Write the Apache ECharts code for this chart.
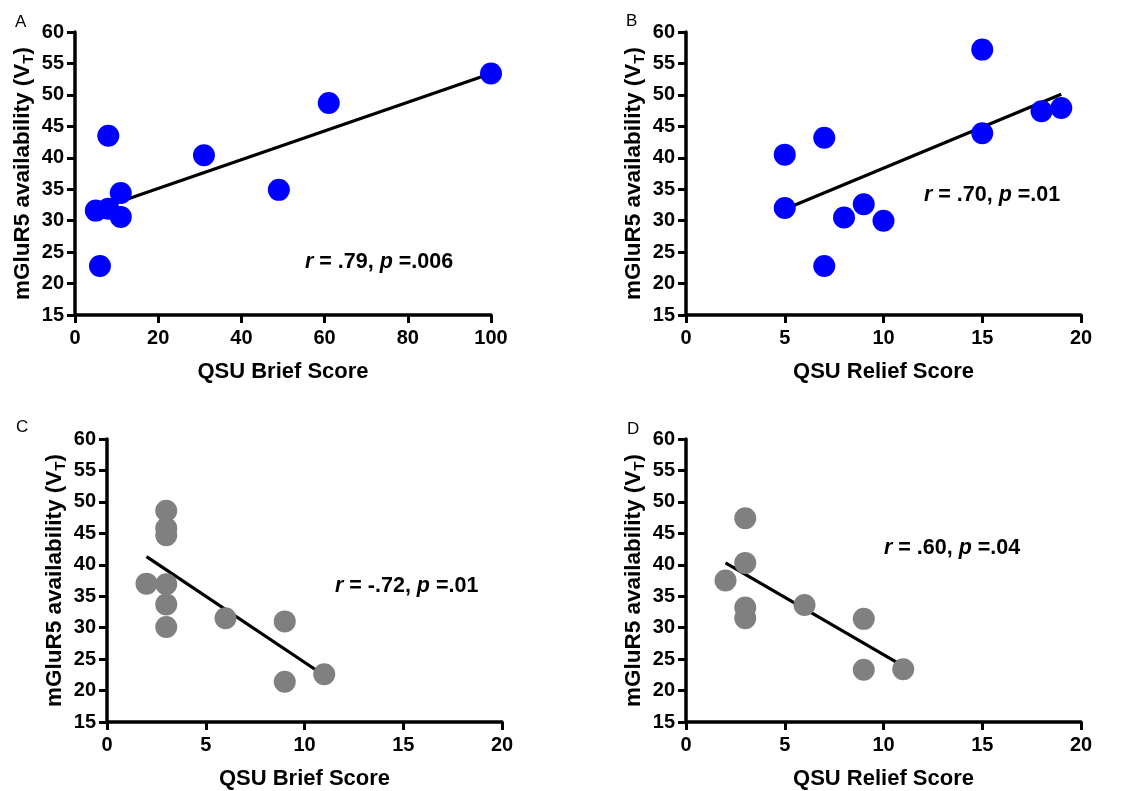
<!DOCTYPE html>
<html>
<head>
<meta charset="utf-8">
<script src="https://cdn.jsdelivr.net/npm/echarts@6/dist/echarts.min.js"></script>
<style>
html,body{margin:0;padding:0;background:#fff;}
#chart{width:1130px;height:791px;}
</style>
</head>
<body>
<div id="chart"></div>
<script>
// ---- Data ----
const yTicks = [15, 20, 25, 30, 35, 40, 45, 50, 55, 60];
const xTicksA = [0, 20, 40, 60, 80, 100];
const xTicksBCD = [0, 5, 10, 15, 20];

const pointsA = [[5, 31.6], [6, 22.8], [8, 43.5], [8, 31.9], [11, 34.4], [11, 30.6], [31, 40.4], [49, 34.9], [61, 48.7], [100, 53.4]];
const fitA = [[5, 31.7], [100, 53.4]];

const pointsB = [[5, 40.5], [5, 32.0], [7, 43.2], [7, 22.8], [8, 30.5], [9, 32.6], [10, 30.0], [15, 57.2], [15, 43.9], [18, 47.4], [19, 47.9]];
const fitB = [[5, 31.8], [19, 50.1]];

const pointsC = [[2, 37.0], [3, 48.6], [3, 45.8], [3, 44.7], [3, 36.9], [3, 33.7], [3, 30.1], [6, 31.5], [9, 31.0], [9, 21.4], [11, 22.6]];
const fitC = [[2, 41.3], [11, 22.4]];

const pointsD = [[2, 37.5], [3, 47.4], [3, 40.3], [3, 33.2], [3, 31.5], [6, 33.6], [9, 31.4], [9, 23.3], [11, 23.4]];
const fitD = [[2, 40.3], [11, 23.9]];

const panelLetters = ['A', 'B', 'C', 'D'];
const statsText = [['.79', '.006'], ['.70', '.01'], ['-.72', '.01'], ['.60', '.04']];
const xNames = ['QSU Brief Score', 'QSU Relief Score', 'QSU Brief Score', 'QSU Relief Score'];
const yName = 'mGluR5 availability (V{sub|T})';

// ---- Layout ----
const FONT = '"Liberation Sans", Arial, Helvetica, sans-serif';
const grids = [
  {left: 75, top: 32, width: 416, height: 283},
  {left: 686, top: 32, width: 395, height: 283},
  {left: 107, top: 439, width: 395, height: 283},
  {left: 686, top: 439, width: 395, height: 283}
];
const xRanges = [
  {min: xTicksA[0], max: xTicksA[xTicksA.length - 1], interval: xTicksA[1] - xTicksA[0]},
  {min: xTicksBCD[0], max: xTicksBCD[xTicksBCD.length - 1], interval: xTicksBCD[1] - xTicksBCD[0]},
  {min: xTicksBCD[0], max: xTicksBCD[xTicksBCD.length - 1], interval: xTicksBCD[1] - xTicksBCD[0]},
  {min: xTicksBCD[0], max: xTicksBCD[xTicksBCD.length - 1], interval: xTicksBCD[1] - xTicksBCD[0]}
];
const pointSets = [pointsA, pointsB, pointsC, pointsD];
const fitSets = [fitA, fitB, fitC, fitD];
const colors = ['#0000FF', '#0000FF', '#808080', '#808080'];
const letterPos = [[10, 9], [621, 8], [11, 414], [622, 416]];
const statsPos = [[300, 246], [919, 179], [330, 570], [879, 532]];

const axisLine = {show: true, onZero: false, lineStyle: {color: '#000', width: 3.5}};
const axisTick = {show: true, inside: false, length: 8, lineStyle: {color: '#000', width: 3}};
const labelStyle = {color: '#000', fontFamily: FONT, fontWeight: 'bold', fontSize: 20};

const xAxes = [], yAxes = [], series = [], titles = [];
grids.forEach((g, i) => {
  xAxes.push({
    type: 'value', gridIndex: i,
    min: xRanges[i].min, max: xRanges[i].max, interval: xRanges[i].interval,
    axisLine, axisTick, splitLine: {show: false},
    axisLabel: Object.assign({margin: 13}, labelStyle),
    name: xNames[i], nameLocation: 'middle', nameGap: 46,
    nameTextStyle: {color: '#000', fontFamily: FONT, fontWeight: 'bold', fontSize: 22}
  });
  yAxes.push({
    type: 'value', gridIndex: i,
    min: yTicks[0], max: yTicks[yTicks.length - 1], interval: yTicks[1] - yTicks[0],
    axisLine, axisTick, splitLine: {show: false},
    axisLabel: Object.assign({margin: 11}, labelStyle),
    name: yName, nameLocation: 'middle', nameGap: 39, nameRotate: 90,
    nameTextStyle: {
      color: '#000', fontFamily: FONT, fontWeight: 'bold', fontSize: 22.5, lineHeight: 27,
      rich: {
        sub: {fontFamily: FONT, fontWeight: 'bold', fontSize: 15, color: '#000', verticalAlign: 'bottom', lineHeight: 22}
      }
    }
  });
  series.push({
    type: 'line', xAxisIndex: i, yAxisIndex: i, data: fitSets[i],
    symbol: 'none', lineStyle: {color: '#000', width: 3.2}, z: 2, silent: true
  });
  series.push({
    type: 'scatter', xAxisIndex: i, yAxisIndex: i, data: pointSets[i],
    symbolSize: 22, itemStyle: {color: colors[i], opacity: 1}, z: 3
  });
  titles.push({
    text: panelLetters[i], left: letterPos[i][0], top: letterPos[i][1],
    textStyle: {fontFamily: FONT, fontWeight: 'normal', fontSize: 17, color: '#000'}
  });
  titles.push({
    text: '{i|r} = ' + statsText[i][0] + ', {i|p} =' + statsText[i][1],
    left: statsPos[i][0], top: statsPos[i][1],
    textStyle: {
      fontFamily: FONT, fontWeight: 'bold', fontSize: 21.5, color: '#000',
      rich: {i: {fontFamily: FONT, fontWeight: 'bold', fontStyle: 'italic', fontSize: 21.5, color: '#000'}}
    }
  });
});

const chart = echarts.init(document.getElementById('chart'), null, {renderer: 'canvas'});
chart.setOption({
  animation: false,
  backgroundColor: '#fff',
  title: titles,
  grid: grids,
  xAxis: xAxes,
  yAxis: yAxes,
  series: series
});
</script>
</body>
</html>
